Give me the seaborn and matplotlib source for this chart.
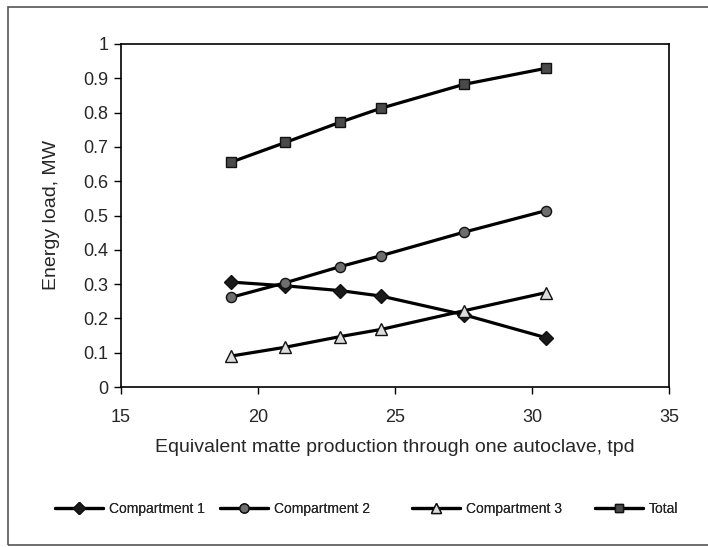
import matplotlib
matplotlib.use("Agg")
import matplotlib.pyplot as plt
import seaborn as sns
import pandas as pd
from matplotlib.patches import Rectangle
from matplotlib.lines import Line2D

production = [19, 21, 23, 24.5, 27.5, 30.5]
compartment1 = [0.306, 0.295, 0.281, 0.265, 0.211, 0.144]
compartment2 = [0.261, 0.304, 0.351, 0.383, 0.451, 0.514]
compartment3 = [0.090, 0.116, 0.147, 0.168, 0.222, 0.275]
total = [0.655, 0.713, 0.772, 0.813, 0.882, 0.929]
series_names = ["Compartment 1", "Compartment 2", "Compartment 3", "Total"]

x_ticks = [15, 20, 25, 30, 35]
y_ticks = [0, 0.1, 0.2, 0.3, 0.4, 0.5, 0.6, 0.7, 0.8, 0.9, 1]
y_ticklabels = ["0", "0.1", "0.2", "0.3", "0.4", "0.5", "0.6", "0.7", "0.8", "0.9", "1"]

rows = []
for name, vals in zip(series_names, [compartment1, compartment2, compartment3, total]):
    for xv, yv in zip(production, vals):
        rows.append({"x": xv, "y": yv, "series": name})
df = pd.DataFrame(rows)

sns.set_theme(style="white")
plt.rcParams['font.family'] = ['Liberation Sans', 'DejaVu Sans']

fig = plt.figure(figsize=(7.08, 5.47), dpi=100)
ax = fig.add_axes([121/708, 1-387/547, (669-121)/708, (387-44)/547])

styles = {
    "Compartment 1": dict(marker="D", mfc="#1a1a1a", ms=6.8),
    "Compartment 2": dict(marker="o", mfc="#6e6e6e", ms=7.3),
    "Compartment 3": dict(marker="^", mfc="#dcdcdc", ms=8.3),
    "Total": dict(marker="s", mfc="#4a4a4a", ms=7),
}

handles = []
for name in series_names:
    st = styles[name]
    sub = df[df["series"] == name]
    sns.lineplot(data=sub, x="x", y="y", ax=ax, color="black", lw=2.3,
                 marker=st["marker"], markerfacecolor=st["mfc"],
                 markeredgecolor="#111111", markeredgewidth=1.0,
                 markersize=st["ms"], estimator=None, sort=False, legend=False)
    handles.append(Line2D([0], [0], color="black", lw=2.3, marker=st["marker"],
                          markerfacecolor=st["mfc"], markeredgecolor="#111111",
                          markeredgewidth=1.0, markersize=st["ms"] * 0.9))

ax.set_xlim(15, 35)
ax.set_ylim(0, 1)
ax.set_xticks(x_ticks)
ax.set_yticks(y_ticks)
ax.set_yticklabels(y_ticklabels)
ax.tick_params(axis="both", which="both", direction="out", length=5, width=1,
               color="black", labelsize=13, pad=4, left=True, bottom=True)
ax.tick_params(axis="x", pad=11)
for side in ["left", "bottom", "top", "right"]:
    ax.spines[side].set_color("black")
    ax.spines[side].set_linewidth(1.2)
ax.set_xlabel("Equivalent matte production through one autoclave, tpd", fontsize=14, labelpad=9)
ax.set_ylabel("Energy load, MW", fontsize=14, labelpad=17)
ax.grid(False)

# Legend entries (Excel-like spacing)
leg_x = [55, 220, 412, 595]
for h, name, lx in zip(handles, series_names, leg_x):
    lg = fig.legend([h], [name], loc="center left",
                    bbox_to_anchor=(lx/708, 1-509/547), frameon=False,
                    fontsize=10, handlelength=3.45, handletextpad=0.43,
                    borderaxespad=0, borderpad=0)
    fig.add_artist(lg)

fig.patches.append(Rectangle((8/708, 2/547), 1.2, 538/547, transform=fig.transFigure,
                             fill=False, edgecolor="#555555", lw=1.2))

fig.savefig("out.png", dpi=100)
